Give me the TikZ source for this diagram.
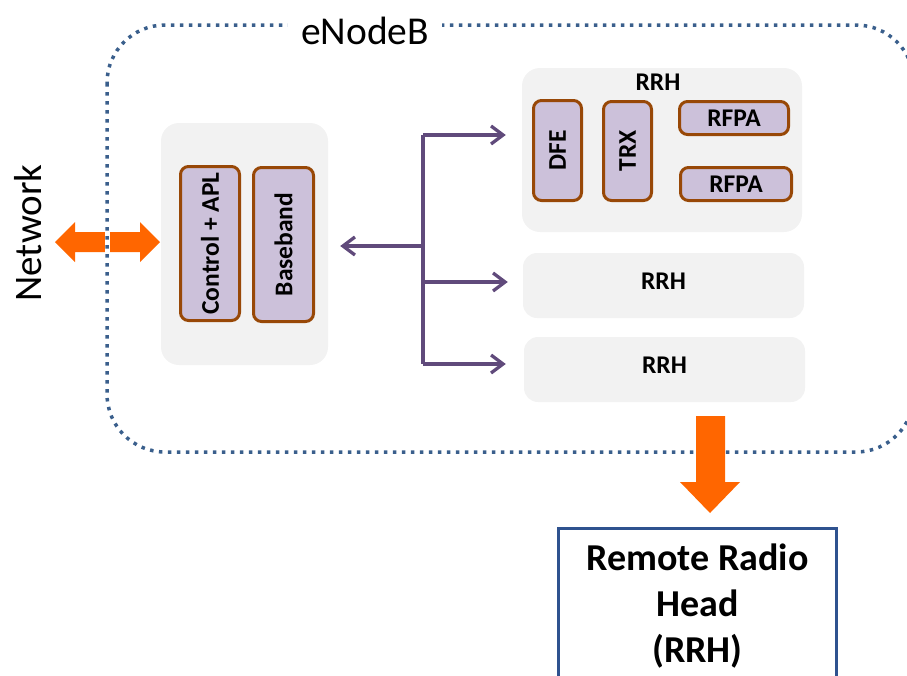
\documentclass[tikz,border=0pt]{standalone}
\usepackage{fontspec}
\setmainfont{Carlito}
\usetikzlibrary{arrows.meta}
\definecolor{boxgray}{HTML}{F2F2F2}
\definecolor{lav}{HTML}{CCC1DA}
\definecolor{brownc}{HTML}{984807}
\definecolor{purp}{HTML}{604A7B}
\definecolor{dotblue}{HTML}{3A5F8C}
\definecolor{orng}{HTML}{FF6600}
\definecolor{rrhblue}{HTML}{2F528F}
\begin{document}
\begin{tikzpicture}[x=1pt,y=-1pt,
  graybox/.style={fill=boxgray, draw=none, rounded corners=18pt, inner sep=0pt},
  unit/.style={fill=lav, draw=brownc, line width=3pt, rounded corners=8pt, inner sep=0pt,
    font=\fontsize{25.5}{28}\selectfont\bfseries},
  lbl/.style={font=\fontsize{25.5}{28}\selectfont\bfseries, inner sep=0pt},
  pline/.style={draw=purp, line width=3.3pt},
  parrow/.style={pline, -{Straight Barb[length=12pt,width=18pt,line width=3.3pt]}},
  dotbox/.style={draw=dotblue, line width=3.5pt, dash pattern=on 3.5pt off 5.5pt},
  blockarrow/.style={fill=orng, draw=none}
]
\useasboundingbox (0,0) rectangle (907,675);
\clip (0,0) rectangle (907,675);

% network double arrow
\fill[blockarrow] (55,242) -- (75,222) -- (75,232) -- (140,232) -- (140,222) -- (160,242)
  -- (140,262) -- (140,252) -- (75,252) -- (75,262) -- cycle;
\fill[white] (105,231) rectangle (110,253);

% eNodeB dotted boundary
\draw[dotbox, rounded corners=58pt] (107,25) rectangle (914,452);
\node[fill=white, inner xsep=13pt, inner ysep=2pt, font=\fontsize{39.5}{42}\selectfont] (enb) at (365,31) {eNodeB};

\node[rotate=90, font=\fontsize{39}{42}\selectfont, inner sep=0pt] (net) at (28,233) {Network};

% BBU
\node[graybox, minimum width=167pt, minimum height=242pt] (bbu) at (244.5,244) {};
\node[unit, rotate=90, minimum width=154pt, minimum height=59pt] (ctrl) at (210,243.5) {Control + APL};
\node[unit, rotate=90, minimum width=154pt, minimum height=60pt] (bb) at (283.5,244.5) {Baseband};

% RRH 1
\node[graybox, minimum width=280pt, minimum height=164pt] (rrh1) at (662,150) {};
\node[lbl] (rrh1l) at (658,82) {RRH};
\node[unit, rotate=90, minimum width=100pt, minimum height=48pt] (dfe) at (557.5,150.5) {DFE};
\node[unit, rotate=90, minimum width=99pt, minimum height=48pt] (trx) at (627.5,151) {TRX};
\node[unit, minimum width=109pt, minimum height=33pt] (rfpa1) at (734,118) {RFPA};
\node[unit, minimum width=111pt, minimum height=33pt] (rfpa2) at (736,184) {RFPA};

% RRH 2, 3
\node[graybox, rounded corners=14pt, minimum width=281pt, minimum height=65pt] (rrh2) at (663.5,285.5) {};
\node[lbl] (rrh2l) at ([yshift=4pt]rrh2.center) {RRH};
\node[graybox, rounded corners=14pt, minimum width=281pt, minimum height=65pt] (rrh3) at (664.5,369.5) {};
\node[lbl] (rrh3l) at ([yshift=4pt]rrh3.center) {RRH};

% purple connectors
\coordinate (jt) at (423,135);
\coordinate (jm) at (423,246);
\coordinate (j2) at (423,282);
\coordinate (jb) at (423,364);
\draw[pline] (jt) -- (jb);
\draw[parrow, shorten >=12pt] (jm) -- (jm -| bbu.east);
\draw[parrow, shorten >=16pt] (jt) -- (jt -| rrh1.west);
\draw[parrow, shorten >=15pt] (j2) -- (j2 -| rrh2.west);
\draw[parrow, shorten >=18pt] (jb) -- (jb -| rrh3.west);

% remote radio head
\node[draw=rrhblue, line width=3pt, fill=white, minimum width=278pt, minimum height=190pt, anchor=north, inner sep=0pt] (rem) at (697.5,526.5) {};
\node[font=\fontsize{38}{46}\selectfont\bfseries, align=center, anchor=north, inner sep=0pt] (remt) at (697.5,544) {Remote Radio\\Head\\(RRH)};

% orange down arrow
\fill[blockarrow] (696,416) -- (725,416) -- (725,482) -- (740,482) -- (710,513) -- (680,482) -- (696,482) -- cycle;
\end{tikzpicture}
\end{document}
